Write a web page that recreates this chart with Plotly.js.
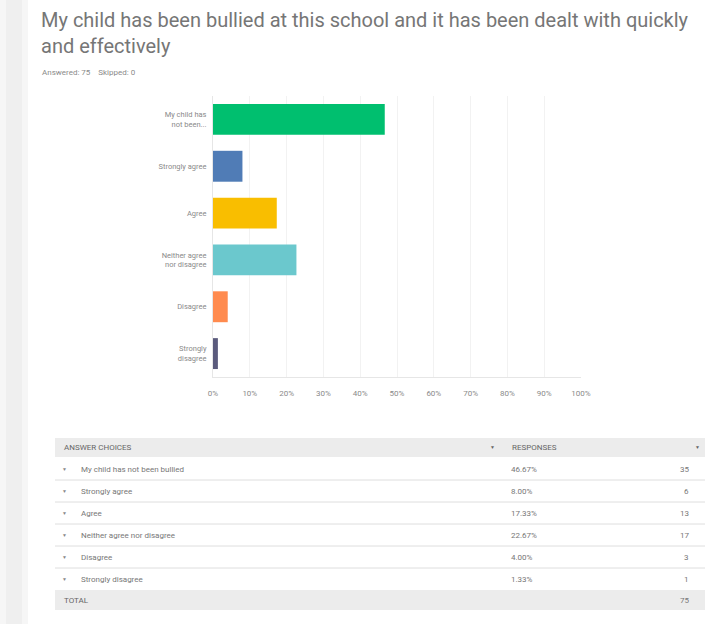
<!DOCTYPE html>
<html>
<head>
<meta charset="utf-8">
<script src="https://cdn.plot.ly/plotly-3.0.1.min.js"></script>
<style>html,body{margin:0;padding:0;background:#fff;}#chart{width:705px;height:624px;}</style>
</head>
<body>
<div id="chart"></div>
<script>
// ---- data ----
var titleText = "My child has been bullied at this school and it has been dealt with quickly<br>and effectively";
var answered = 75;
var skipped = 0;
var categories = ["My child has not been bullied", "Strongly agree", "Agree", "Neither agree nor disagree", "Disagree", "Strongly disagree"];
var axisLabels = ["My child has<br>not been...", "Strongly agree", "Agree", "Neither agree<br>nor disagree", "Disagree", "Strongly<br>disagree"];
var percents = [46.67, 8.00, 17.33, 22.67, 4.00, 1.33];
var counts = [35, 6, 13, 17, 3, 1];
var total = 75;
var xTickVals = [0, 10, 20, 30, 40, 50, 60, 70, 80, 90, 100];
var xTickText = ["0%", "10%", "20%", "30%", "40%", "50%", "60%", "70%", "80%", "90%", "100%"];
var barColors = ["#00bf6f", "#507cb6", "#f9be00", "#6bc8cd", "#ff8b4f", "#5b5b7d"];

// ---- layout helpers (pixel -> paper) ----
var W = 705, H = 624;
function px(x) { return x / W; }
function py(y) { return 1 - y / H; }
var FONT = "Roboto, 'Open Sans', sans-serif";

var trace = {
  type: "bar",
  orientation: "h",
  y: categories,
  x: percents,
  marker: { color: barColors },
  width: 0.66,
  hoverinfo: "none"
};

var shapes = [];
var annotations = [];

// left page strip
shapes.push({type:"rect", xref:"paper", yref:"paper", x0:px(0), x1:px(28), y0:py(0), y1:py(H), fillcolor:"#f6f6f6", line:{width:0}, layer:"below"});
shapes.push({type:"rect", xref:"paper", yref:"paper", x0:px(6), x1:px(22), y0:py(0), y1:py(H), fillcolor:"#efefef", line:{width:0}, layer:"below"});

// title
annotations.push({xref:"paper", yref:"paper", x:px(39), y:py(6), xanchor:"left", yanchor:"top", align:"left", showarrow:false,
  text:titleText, font:{family:FONT, size:20, color:"#767676"}});

// answered / skipped
annotations.push({xref:"paper", yref:"paper", x:px(40), y:py(72), xanchor:"left", yanchor:"middle", showarrow:false,
  text:"Answered: " + answered + "&nbsp;&nbsp;&nbsp;&nbsp;Skipped: " + skipped, font:{family:FONT, size:8, color:"#8a8a8a"}});

// table
var tL = 55, tR = 705;
var headerTop = 438, headerBot = 457;
var rowY = [469, 491, 513, 535, 557, 579];
var sepY = [480, 502, 524, 546, 568];
var totalTop = 590, totalBot = 610;
var grayFill = "#ececec";
var tFont = {family:FONT, size:8, color:"#777"};

shapes.push({type:"rect", xref:"paper", yref:"paper", x0:px(tL), x1:px(tR), y0:py(headerTop), y1:py(headerBot), fillcolor:grayFill, line:{width:0}});
shapes.push({type:"rect", xref:"paper", yref:"paper", x0:px(tL), x1:px(tR), y0:py(totalTop), y1:py(totalBot), fillcolor:grayFill, line:{width:0}});
sepY.forEach(function (y) {
  shapes.push({type:"line", xref:"paper", yref:"paper", x0:px(tL), x1:px(tR), y0:py(y), y1:py(y), line:{color:"#dedede", width:1}});
});

annotations.push({xref:"paper", yref:"paper", x:px(62), y:py(447), xanchor:"left", yanchor:"middle", showarrow:false, text:"ANSWER CHOICES", font:{family:FONT, size:8, color:"#666"}});
annotations.push({xref:"paper", yref:"paper", x:px(492), y:py(447), xanchor:"center", yanchor:"middle", showarrow:false, text:"▼", font:{family:FONT, size:5, color:"#666"}});
annotations.push({xref:"paper", yref:"paper", x:px(510), y:py(447), xanchor:"left", yanchor:"middle", showarrow:false, text:"RESPONSES", font:{family:FONT, size:8, color:"#666"}});
annotations.push({xref:"paper", yref:"paper", x:px(697), y:py(447), xanchor:"center", yanchor:"middle", showarrow:false, text:"▼", font:{family:FONT, size:5, color:"#666"}});

categories.forEach(function (c, i) {
  var y = rowY[i];
  annotations.push({xref:"paper", yref:"paper", x:px(64), y:py(y), xanchor:"center", yanchor:"middle", showarrow:false, text:"▼", font:{family:FONT, size:5, color:"#888"}});
  annotations.push({xref:"paper", yref:"paper", x:px(79), y:py(y), xanchor:"left", yanchor:"middle", showarrow:false, text:c, font:tFont});
  annotations.push({xref:"paper", yref:"paper", x:px(509), y:py(y), xanchor:"left", yanchor:"middle", showarrow:false, text:percents[i].toFixed(2) + "%", font:tFont});
  annotations.push({xref:"paper", yref:"paper", x:px(691), y:py(y), xanchor:"right", yanchor:"middle", showarrow:false, text:String(counts[i]), font:tFont});
});
annotations.push({xref:"paper", yref:"paper", x:px(62), y:py(600), xanchor:"left", yanchor:"middle", showarrow:false, text:"TOTAL", font:{family:FONT, size:8, color:"#666"}});
annotations.push({xref:"paper", yref:"paper", x:px(691), y:py(600), xanchor:"right", yanchor:"middle", showarrow:false, text:String(total), font:tFont});

var layout = {
  width: W, height: H, autosize: false,
  margin: {l:0, r:0, t:0, b:0, pad:0},
  paper_bgcolor: "#ffffff",
  plot_bgcolor: "#ffffff",
  showlegend: false,
  xaxis: {
    domain: [px(213), px(581)],
    range: [0, 100],
    tickvals: xTickVals,
    ticktext: xTickText,
    showgrid: true, gridcolor: "#f2f2f2", gridwidth: 1,
    zeroline: false,
    showline: true, linecolor: "#e6e6e6", linewidth: 1,
    ticks: "",
    ticklabelstandoff: 8,
    tickfont: {family: FONT, size: 8, color: "#8a8a8a"},
    fixedrange: true
  },
  yaxis: {
    domain: [py(377), py(96)],
    autorange: "reversed",
    tickvals: categories,
    ticktext: axisLabels,
    showgrid: false, zeroline: false,
    showline: true, linecolor: "#e6e6e6", linewidth: 1,
    ticks: "",
    ticklabelstandoff: 4,
    tickfont: {family: FONT, size: 7.5, color: "#8a8a8a"},
    fixedrange: true
  },
  bargap: 0.34,
  shapes: shapes,
  annotations: annotations
};

Plotly.newPlot("chart", [trace], layout, {displayModeBar: false, staticPlot: true});
</script>
</body>
</html>
